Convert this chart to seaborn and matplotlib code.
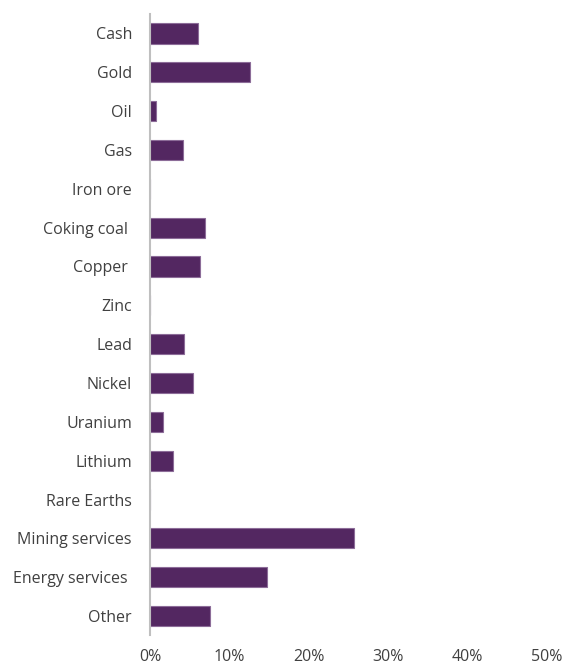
import matplotlib
matplotlib.use("Agg")
import matplotlib.pyplot as plt
import seaborn as sns
import pandas as pd
from matplotlib.ticker import FuncFormatter

categories = ["Cash", "Gold", "Oil", "Gas", "Iron ore", "Coking coal ", "Copper ", "Zinc",
              "Lead", "Nickel", "Uranium", "Lithium", "Rare Earths", "Mining services",
              "Energy services ", "Other"]
values = [6.0, 12.6, 0.8, 4.1, 0.0, 6.9, 6.3, 0.0, 4.3, 5.4, 1.7, 2.9, 0.0, 25.7, 14.7, 7.5]
xticks = [0, 10, 20, 30, 40, 50]

df = pd.DataFrame({"category": categories, "value": values})

sns.set_theme(style="white")
plt.rcParams['font.family'] = ['Open Sans', 'DejaVu Sans']

fig = plt.figure(figsize=(5.63, 6.68), dpi=100)
ax = fig.add_axes([0.2664, 0.0487, 0.7052, 0.9303])

sns.barplot(data=df, y="category", x="value", orient="h", color="#532761",
            saturation=1, width=0.52, edgecolor="#8c6c98", linewidth=0.8, ax=ax)

ax.set_xlim(0, 50)
ax.set_ylim(15.5, -0.5)
ax.set_xticks(xticks)
ax.xaxis.set_major_formatter(FuncFormatter(lambda v, p: f"{int(v)}%"))
ax.set_xlabel("")
ax.set_ylabel("")
for s in ["top", "right", "bottom"]:
    ax.spines[s].set_visible(False)
ax.spines["left"].set_color("#bfbfbf")
ax.spines["left"].set_linewidth(1.5)
ax.tick_params(axis="both", length=0, labelsize=11.5, labelcolor="#404040")
ax.tick_params(axis="y", pad=13)
ax.tick_params(axis="x", pad=10)

fig.savefig("out.png", dpi=100)
